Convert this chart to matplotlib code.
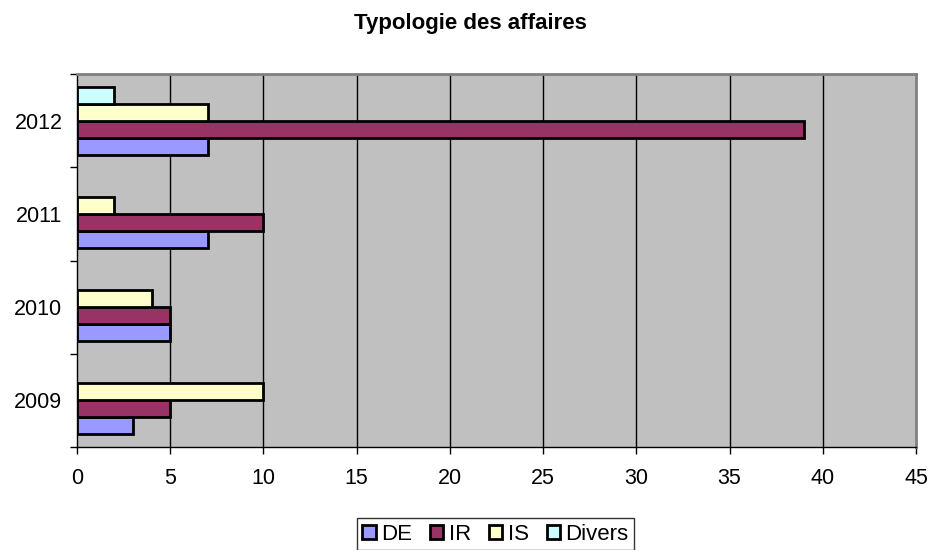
import matplotlib
matplotlib.use("Agg")
import matplotlib.pyplot as plt
from matplotlib.patches import Patch
import numpy as np

plt.rcParams['font.family'] = ['Liberation Sans', 'DejaVu Sans']

categories = ['2009', '2010', '2011', '2012']
series_names = ['DE', 'IR', 'IS', 'Divers']
DE = [3, 5, 7, 7]
IR = [5, 5, 10, 39]
IS = [10, 4, 2, 7]
Divers = [0, 0, 0, 2]
colors = ['#9999FF', '#993366', '#FFFFCC', '#CCFFFF']
xticks = [0, 5, 10, 15, 20, 25, 30, 35, 40, 45]

W, H = 931, 550
fig = plt.figure(figsize=(W / 100, H / 100), dpi=100)
ax = fig.add_axes([77 / W, 1 - 447 / H, (916 - 77) / W, (447 - 74) / H])
ax.set_facecolor('#C0C0C0')

values = [DE, IR, IS, Divers]
bh = 1 / 5.5
y = np.arange(len(categories))
for i, (vals, c) in enumerate(zip(values, colors)):
    offs = (i - 1.5) * bh
    v = np.array(vals, dtype=float)
    mask = v > 0
    ax.barh(y[mask] + offs, v[mask], height=bh, color=c, edgecolor='black',
            linewidth=2, zorder=3)

fs = 15.5
ax.set_xlim(0, 45)
ax.set_ylim(-0.5, 3.5)
ax.set_xticks(xticks)
ax.set_xticklabels([str(t) for t in xticks], fontsize=fs)
ax.set_yticks(y)
ax.set_yticklabels(categories, fontsize=fs)
ax.set_yticks(np.arange(-0.5, 4.0, 1.0), minor=True)
ax.tick_params(axis='y', which='major', length=0, pad=10.5)
ax.tick_params(axis='y', which='minor', length=5, width=1, direction='out')
ax.tick_params(axis='x', which='major', length=5, width=1, direction='out', pad=10)
for t in xticks[1:-1]:
    ax.axvline(t, color='black', linewidth=1, zorder=1)

for s in ['top', 'right']:
    ax.spines[s].set_color('#808080')
    ax.spines[s].set_linewidth(2)
for s in ['left', 'bottom']:
    ax.spines[s].set_color('black')
    ax.spines[s].set_linewidth(1)

fig.text(470 / W, 1 - 24 / H, 'Typologie des affaires', ha='center', va='center',
         fontsize=16, fontweight='bold')

handles = [Patch(facecolor=c, edgecolor='black', linewidth=2, label=n)
           for c, n in zip(colors, series_names)]
leg = fig.legend(handles=handles, loc='center', bbox_to_anchor=(495.5 / W, 1 - 534 / H),
                 ncol=4, frameon=True, fontsize=16, handlelength=0.6, handleheight=0.6,
                 handletextpad=0.25, columnspacing=0.8, borderpad=0.25, borderaxespad=0,
                 fancybox=False)
leg.get_frame().set_edgecolor('black')
leg.get_frame().set_linewidth(1)

fig.savefig('out.png', dpi=100)
